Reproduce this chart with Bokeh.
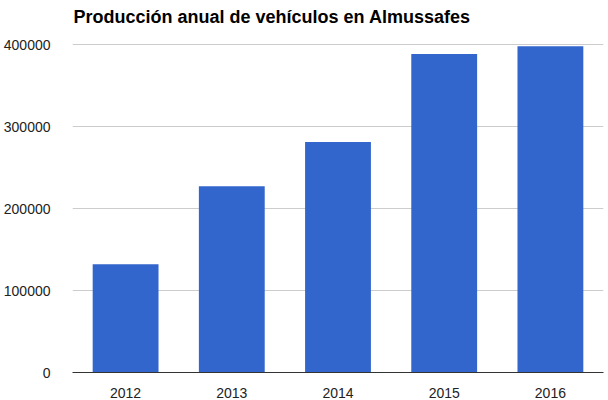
from bokeh.plotting import figure
from bokeh.models import FactorRange, Range1d, ColumnDataSource, NumeralTickFormatter, FixedTicker, Label
from bokeh.embed import file_html
from bokeh.resources import INLINE

years = ["2012", "2013", "2014", "2015", "2016"]
production = [132000, 227000, 281000, 388500, 398000]
y_ticks = [0, 100000, 200000, 300000, 400000]
title_text = "Producción anual de vehículos en Almussafes"

source = ColumnDataSource(dict(year=years, value=production))

# frame spans the full height above the axis; the 400000 line sits 44px below the top
frame_h = 372
y_top = 400000 * frame_h / (frame_h - 44)

p = figure(width=608, height=400, output_backend="svg", toolbar_location=None,
           x_range=FactorRange(*years, range_padding=0),
           y_range=Range1d(0, y_top),
           min_border_left=70, min_border_right=5, min_border_bottom=28, min_border_top=0)

p.vbar(x="year", top="value", width=0.62, source=source, color="#3366CC", line_color=None)

title = Label(x=1, y=frame_h - 16.5, x_units="screen", y_units="screen", text=title_text,
              text_font="Liberation Sans", text_font_size="18px", text_font_style="bold",
              text_color="#000000", text_baseline="alphabetic", text_align="left")
p.add_layout(title)

p.outline_line_color = None
p.background_fill_color = "white"
p.border_fill_color = "white"

p.xgrid.grid_line_color = None
p.ygrid.grid_line_color = "#cccccc"
p.ygrid.ticker = FixedTicker(ticks=y_ticks)

p.yaxis.ticker = FixedTicker(ticks=y_ticks)
p.yaxis.formatter = NumeralTickFormatter(format="0")
p.yaxis.axis_line_color = None
p.yaxis.major_tick_line_color = None
p.yaxis.minor_tick_line_color = None
p.yaxis.major_label_text_font = "Liberation Sans"
p.yaxis.major_label_text_font_size = "14px"
p.yaxis.major_label_text_color = "#222222"
p.yaxis.major_label_standoff = 16

p.xaxis.axis_line_color = "#333333"
p.xaxis.axis_line_width = 1
p.xaxis.major_tick_line_color = None
p.xaxis.minor_tick_line_color = None
p.xaxis.major_label_text_font = "Liberation Sans"
p.xaxis.major_label_text_font_size = "14px"
p.xaxis.major_label_text_color = "#222222"
p.xaxis.major_label_standoff = 9

open("out.html", "w").write(file_html(p, INLINE))
